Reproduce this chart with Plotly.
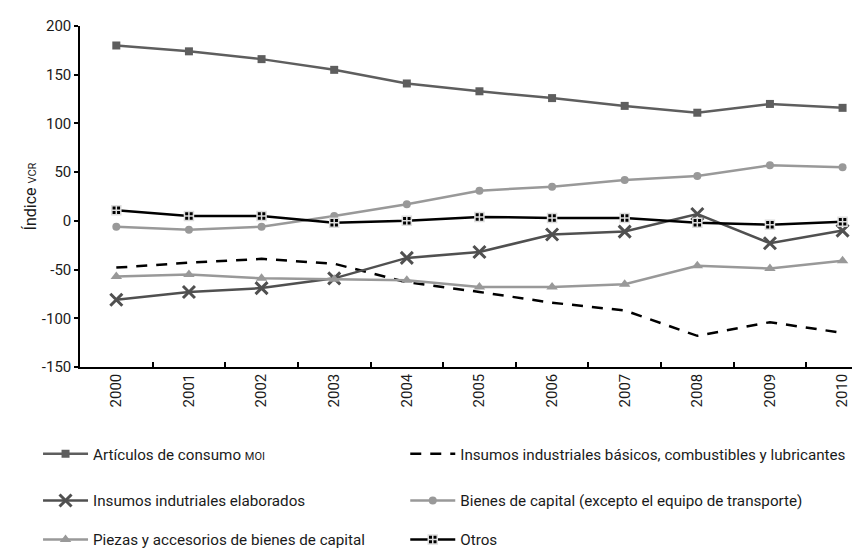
import plotly.graph_objects as go

years = ["2000", "2001", "2002", "2003", "2004", "2005", "2006", "2007", "2008", "2009", "2010"]

articulos_consumo = [180, 174, 166, 155, 141, 133, 126, 118, 111, 120, 116]
insumos_basicos = [-48, -43, -39, -44, -63, -73, -84, -92, -118, -104, -115]
insumos_elaborados = [-81, -73, -69, -59, -38, -32, -14, -11, 7, -23, -10]
bienes_capital = [-6, -9, -6, 5, 17, 31, 35, 42, 46, 57, 55]
piezas_accesorios = [-57, -55, -59, -60, -61, -68, -68, -65, -46, -49, -41]
otros = [11, 5, 5, -2, 0, 4, 3, 3, -2, -4, -1]

y_ticks = [-150, -100, -50, 0, 50, 100, 150, 200]
y_tick_labels = ["-150", "-100", "-50", "0", "50", "100", "150", "200"]

FONT = "Roboto"

def f(size=15):
    return dict(family=FONT, size=size, color="#1a1a1a")

fig = go.Figure()

fig.add_trace(go.Scatter(
    x=years, y=articulos_consumo, mode="lines+markers",
    name="Artículos de consumo <span style='font-size:11px'>MOI</span>",
    line=dict(color="#5e5e5e", width=2.5),
    marker=dict(symbol="square", size=8, color="#5e5e5e"),
    legend="legend",
))
fig.add_trace(go.Scatter(
    x=years, y=insumos_basicos, mode="lines",
    name="Insumos industriales básicos, combustibles y lubricantes",
    line=dict(color="#000000", width=2.5, dash="11px,9px"),
    legend="legend2",
))
fig.add_trace(go.Scatter(
    x=years, y=insumos_elaborados, mode="lines+markers",
    name="Insumos indutriales elaborados",
    line=dict(color="#505050", width=2.5),
    marker=dict(symbol="x-thin", size=12, line=dict(color="#505050", width=3)),
    legend="legend3",
))
fig.add_trace(go.Scatter(
    x=years, y=bienes_capital, mode="lines+markers",
    name="Bienes de capital (excepto el equipo de transporte)",
    line=dict(color="#999999", width=2.5),
    marker=dict(symbol="circle", size=8, color="#999999"),
    legend="legend4",
))
fig.add_trace(go.Scatter(
    x=years, y=piezas_accesorios, mode="lines+markers",
    name="Piezas y accesorios de bienes de capital",
    line=dict(color="#999999", width=2.5),
    marker=dict(symbol="triangle-up", size=10, color="#999999"),
    legend="legend5",
))
fig.add_trace(go.Scatter(
    x=years, y=otros, mode="lines+markers",
    name="Otros",
    line=dict(color="#000000", width=2.5),
    marker=dict(symbol="square-cross", size=9, color="#000000",
                line=dict(color="#dddddd", width=1.5)),
    legend="legend6",
))

leg_common = dict(
    orientation="v", xanchor="left", yanchor="middle",
    font=f(15.2), itemwidth=45,
    bgcolor="rgba(0,0,0,0)",
)
col1_x, col2_x = -0.0538, 0.417
row_y = [-0.255, -0.392, -0.507]

fig.update_layout(
    width=852, height=548,
    margin=dict(l=72, r=0, t=18, b=186),
    paper_bgcolor="white", plot_bgcolor="white",
    font=f(15),
    showlegend=True,
    legend=dict(leg_common, x=col1_x, y=row_y[0]),
    legend2=dict(leg_common, x=col2_x, y=row_y[0]),
    legend3=dict(leg_common, x=col1_x, y=row_y[1]),
    legend4=dict(leg_common, x=col2_x, y=row_y[1]),
    legend5=dict(leg_common, x=col1_x, y=row_y[2]),
    legend6=dict(leg_common, x=col2_x, y=row_y[2]),
    xaxis=dict(
        type="category", range=[-0.5, 10.24],
        showline=True, linecolor="#000000", linewidth=1.5,
        ticks="inside", ticklen=5, tickcolor="#000000", tickwidth=1.5,
        tickson="boundaries", tickangle=-90, ticklabelstandoff=-1,
        showgrid=False, zeroline=False,
        tickfont=f(15),
    ),
    yaxis=dict(
        range=[-150, 200], tickvals=y_ticks, ticktext=y_tick_labels,
        showline=True, linecolor="#000000", linewidth=1.5,
        ticks="outside", ticklen=4, tickcolor="#000000", tickwidth=1.5,
        showgrid=False, zeroline=False,
        tickfont=f(15),
        title=dict(text="Índice <span style='font-size:11px'>VCR</span>",
                   font=f(16), standoff=1),
    ),
)

fig.write_html("out.html")
